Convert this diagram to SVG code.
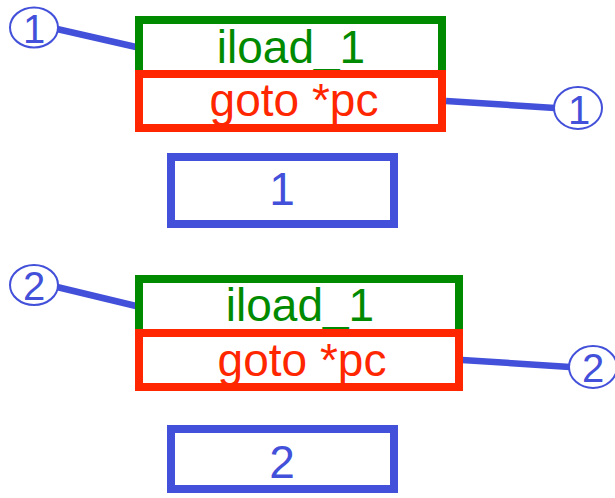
<svg xmlns="http://www.w3.org/2000/svg" width="615" height="498" viewBox="0 0 615 498">
  <style>
    .box { fill: #ffffff; stroke-width: 8; }
    .op { stroke: #008a00; }
    .jmp { stroke: #ff2600; }
    .val { stroke: #4350d9; }
    .lbl { font-family: "Liberation Sans", Arial, sans-serif; font-size: 46px; text-anchor: middle; }
    .g { fill: #008a00; }
    .r { fill: #ff2600; }
    .b { fill: #4350d9; }
    .mark { fill: #ffffff; stroke: #4350d9; stroke-width: 2; }
    .num { font-family: "Liberation Sans", Arial, sans-serif; font-size: 40px; text-anchor: middle; fill: #4350d9; }
    .wire { stroke: #4350d9; stroke-width: 6.5; fill: none; }
  </style>

  <!-- connectors -->
  <g id="connectors">
    <line class="wire" x1="57" y1="29" x2="136" y2="47"/>
    <line class="wire" x1="446" y1="101" x2="555" y2="108"/>
    <line class="wire" x1="57" y1="287" x2="136" y2="306"/>
    <line class="wire" x1="462" y1="360" x2="570" y2="367"/>
  </g>

  <!-- first dispatch pair -->
  <g id="iload-1a">
    <rect class="box op" x="139" y="20" width="303" height="54"/>
    <text class="lbl g" x="291" y="63">iload_1</text>
  </g>
  <g id="goto-1">
    <rect class="box jmp" x="139" y="74" width="303" height="54"/>
    <text class="lbl r" x="294" y="116">goto *pc</text>
  </g>
  <g id="value-1">
    <rect class="box val" x="171" y="157" width="223" height="67"/>
    <text class="lbl b" x="282" y="205">1</text>
  </g>

  <!-- second dispatch pair -->
  <g id="iload-1b">
    <rect class="box op" x="139" y="279" width="320" height="54"/>
    <text class="lbl g" x="300" y="321">iload_1</text>
  </g>
  <g id="goto-2">
    <rect class="box jmp" x="139" y="333" width="320" height="54"/>
    <text class="lbl r" x="302" y="376">goto *pc</text>
  </g>
  <g id="value-2">
    <rect class="box val" x="171" y="429" width="223" height="60"/>
    <text class="lbl b" x="282" y="478">2</text>
  </g>

  <!-- numbered markers -->
  <g id="mark-1-left">
    <ellipse class="mark" cx="34" cy="27.5" rx="24" ry="20"/>
    <text class="num" x="34" y="43">1</text>
  </g>
  <g id="mark-1-right">
    <ellipse class="mark" cx="578" cy="108" rx="24" ry="21"/>
    <text class="num" x="579" y="124">1</text>
  </g>
  <g id="mark-2-left">
    <ellipse class="mark" cx="34" cy="285" rx="24" ry="20"/>
    <text class="num" x="34" y="300">2</text>
  </g>
  <g id="mark-2-right">
    <ellipse class="mark" cx="593" cy="367" rx="24" ry="21"/>
    <text class="num" x="593" y="382">2</text>
  </g>
</svg>
